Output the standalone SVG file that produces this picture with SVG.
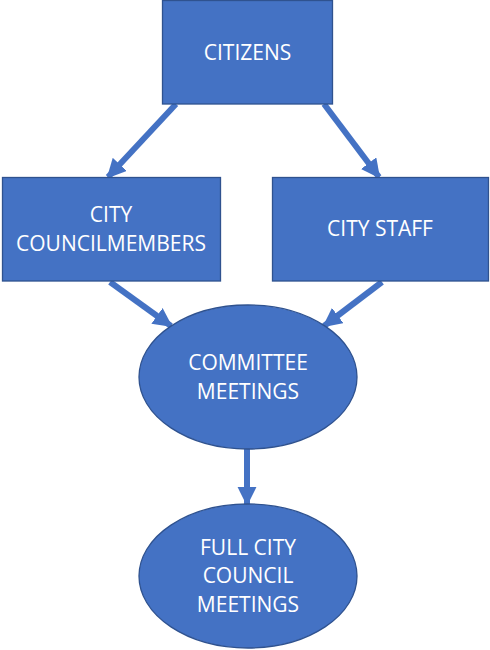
<svg xmlns="http://www.w3.org/2000/svg" width="490" height="650" viewBox="0 0 490 650">
<style>
.n{fill:#4472C4;stroke:#2F528F;stroke-width:1.3}
.t{fill:#fff;font-family:"Open Sans","Liberation Sans",sans-serif;font-size:21px;text-anchor:middle}
.c{stroke:#4472C4;stroke-width:6;fill:none}
</style>
<defs>
<marker id="ah" viewBox="0 0 10 10" refX="9" refY="5" markerWidth="3.2" markerHeight="3.2" markerUnits="strokeWidth" orient="auto">
<path d="M0,0L10,5L0,10z" fill="#4472C4"/>
</marker>
</defs>
<rect width="490" height="650" fill="#fff"/>
<g id="connectors">
<line class="c" x1="176" y1="104" x2="108" y2="177" marker-end="url(#ah)"/>
<line class="c" x1="324" y1="104" x2="379" y2="177" marker-end="url(#ah)"/>
<line class="c" x1="110" y1="282" x2="171" y2="326" marker-end="url(#ah)"/>
<line class="c" x1="382" y1="282" x2="324" y2="326" marker-end="url(#ah)"/>
<line class="c" x1="247" y1="449" x2="247" y2="504" marker-end="url(#ah)"/>
</g>
<g id="citizens">
<rect class="n" x="162.5" y="0.5" width="170" height="103.5"/>
<text class="t" x="247.5" y="60">CITIZENS</text>
</g>
<g id="councilmembers">
<rect class="n" x="2.5" y="177.5" width="218" height="103.5"/>
<text class="t" x="111" y="222">CITY</text>
<text class="t" x="111" y="251">COUNCILMEMBERS</text>
</g>
<g id="staff">
<rect class="n" x="272.5" y="177.5" width="216" height="103.5"/>
<text class="t" x="380" y="236">CITY STAFF</text>
</g>
<g id="committee">
<ellipse class="n" cx="248" cy="377" rx="109" ry="72"/>
<text class="t" x="248" y="370">COMMITTEE</text>
<text class="t" x="248" y="399">MEETINGS</text>
</g>
<g id="fullcouncil">
<ellipse class="n" cx="248" cy="576" rx="109" ry="72"/>
<text class="t" x="248" y="555">FULL CITY</text>
<text class="t" x="248" y="583">COUNCIL</text>
<text class="t" x="248" y="612">MEETINGS</text>
</g>
</svg>
